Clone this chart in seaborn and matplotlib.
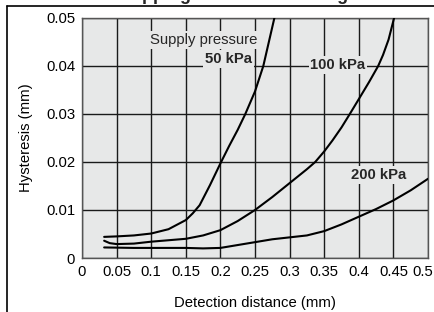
import numpy as np
import pandas as pd
import matplotlib
matplotlib.use("Agg")
import matplotlib.pyplot as plt
import matplotlib.transforms as mtransforms
import seaborn as sns
from matplotlib.lines import Line2D

# Data
x50 = [0.032, 0.05, 0.075, 0.1, 0.125, 0.15, 0.16, 0.17, 0.185, 0.2, 0.2125, 0.225, 0.236, 0.25, 0.262, 0.27, 0.278]
y50 = [0.0044, 0.0045, 0.0047, 0.0051, 0.006, 0.0079, 0.0093, 0.011, 0.0152, 0.0197, 0.0233, 0.0267, 0.03, 0.0347, 0.04, 0.045, 0.05]

x100 = [0.032, 0.04, 0.05, 0.075, 0.1, 0.125, 0.15, 0.175, 0.2, 0.225, 0.25, 0.275, 0.3, 0.325, 0.337, 0.35, 0.362, 0.375, 0.387, 0.4, 0.415, 0.428, 0.435, 0.443, 0.451]
y100 = [0.0036, 0.0031, 0.0029, 0.003, 0.0034, 0.0037, 0.004, 0.0047, 0.0058, 0.0077, 0.01, 0.0127, 0.0156, 0.0185, 0.02, 0.0222, 0.0245, 0.0272, 0.03, 0.0331, 0.0367, 0.04, 0.0423, 0.0455, 0.05]

x200 = [0.032, 0.075, 0.1, 0.15, 0.175, 0.2, 0.225, 0.25, 0.275, 0.3, 0.325, 0.35, 0.375, 0.4, 0.425, 0.45, 0.475, 0.5]
y200 = [0.0022, 0.0021, 0.0021, 0.0021, 0.002, 0.0021, 0.0027, 0.0033, 0.0039, 0.0043, 0.0047, 0.0056, 0.007, 0.0086, 0.0102, 0.012, 0.0141, 0.0165]

xticks = [0, 0.05, 0.1, 0.15, 0.2, 0.25, 0.3, 0.35, 0.4, 0.45, 0.5]
xticklabels = ["0", "0.05", "0.1", "0.15", "0.2", "0.25", "0.3", "0.35", "0.4", "0.45", "0.5"]
yticks = [0, 0.01, 0.02, 0.03, 0.04, 0.05]
yticklabels = ["0", "0.01", "0.02", "0.03", "0.04", "0.05"]

df = pd.concat([
    pd.DataFrame({"x": x50, "y": y50, "p": "50 kPa"}),
    pd.DataFrame({"x": x100, "y": y100, "p": "100 kPa"}),
    pd.DataFrame({"x": x200, "y": y200, "p": "200 kPa"}),
])

sns.set_theme(style="white")
plt.rcParams["font.family"] = ["Liberation Sans", "DejaVu Sans"]
FS = 10.7

fig = plt.figure(figsize=(4.35, 3.12), dpi=100)
ax = fig.add_axes([82/435, 1-258/312, 346/435, 240/312])
bg = "#e7e8e8"
ax.set_facecolor(bg)

sns.lineplot(data=df, x="x", y="y", units="p", estimator=None, sort=False,
             color="black", lw=1.5, ax=ax, zorder=3)

ax.set_xlim(0, 0.5)
ax.set_ylim(0, 0.05)
ax.set_xticks(xticks)
ax.set_xticklabels(xticklabels)
ax.set_yticks(yticks)
ax.set_yticklabels(yticklabels)
ax.grid(True, color="#1a1a1a", lw=1.0, zorder=1)
ax.set_axisbelow(True)
ax.tick_params(axis="both", length=0, labelsize=FS, colors="black", pad=5)
# last x tick label nudged left so that it fits, as in the reference
lbl = ax.get_xticklabels()[-1]
lbl.set_transform(lbl.get_transform() + mtransforms.ScaledTranslation(-5/100, 0, fig.dpi_scale_trans))
for s in ax.spines.values():
    s.set_color("#555555")
    s.set_linewidth(1.0)
ax.set_xlabel("Detection distance (mm)", fontsize=FS, labelpad=12, color="black")
ax.set_ylabel("Hysteresis (mm)", fontsize=FS, labelpad=9, color="black")

box = dict(boxstyle="square,pad=0.12", fc=bg, ec="none")
ax.text(0.1756, 0.0454, "Supply pressure", fontsize=FS, ha="center", va="center", bbox=box, zorder=2)
ax.text(0.212, 0.0414, "50 kPa", fontsize=FS, fontweight="bold", ha="center", va="center", bbox=box, zorder=2)
ax.text(0.37, 0.0402, "100 kPa", fontsize=FS, fontweight="bold", ha="center", va="center", bbox=box, zorder=2)
ax.text(0.429, 0.0173, "200 kPa", fontsize=FS, fontweight="bold", ha="center", va="center", bbox=box, zorder=2)

# outer frame (partial box) and cut-off title
fig.add_artist(Line2D([7/435, 7/435], [0, 1-6/312], transform=fig.transFigure, color="black", lw=1.2))
fig.add_artist(Line2D([7/435, 1], [1-6/312, 1-6/312], transform=fig.transFigure, color="black", lw=1.2))
fig.text(10/435, 1-4.5/312, "Detection of dripping from a nozzle edge", fontsize=13,
         fontweight="bold", ha="left", va="bottom")

fig.savefig("out.png", dpi=100)
